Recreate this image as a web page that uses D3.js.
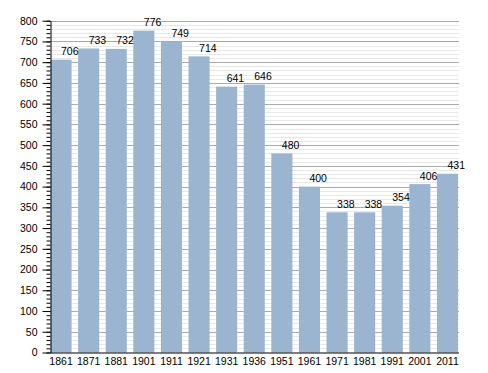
<!DOCTYPE html>
<html>
<head>
<meta charset="utf-8">
<script src="https://cdn.jsdelivr.net/npm/d3@7"></script>
<style>
  body { margin: 0; background: #fff; }
  text { font-family: "Liberation Sans", Arial, sans-serif; font-size: 10.5px; fill: #000; }
</style>
</head>
<body>
<div id="chart"></div>
<script>
// population by census year
var years = ["1861","1871","1881","1901","1911","1921","1931","1936","1951","1961","1971","1981","1991","2001","2011"];
var population = [706,733,732,776,749,714,641,646,480,400,338,338,354,406,431];
var yMajorTicks = [0,50,100,150,200,250,300,350,400,450,500,550,600,650,700,750,800];

var totwidth = 488,
    totheight = 373,
    plotLeft = 50.5, plotRight = 459, plotTop = 20.7, plotBottom = 352.5;

var svg = d3.select("#chart").append("svg")
    .attr("width", totwidth)
    .attr("height", totheight);

var xScale = d3.scaleBand()
    .domain(years)
    .range([plotLeft, 458])
    .paddingInner(0.236)
    .paddingOuter(0)
    .align(0);

var yScale = d3.scaleLinear()
    .domain([0, 800])
    .range([plotBottom, plotTop]);

var minorTicks = d3.range(0, 801, 10);

// minor grid every 10
svg.append("g").selectAll("line")
    .data(minorTicks.filter(function(d) { return d % 50 != 0; }))
    .enter().append("line")
      .attr("x1", plotLeft).attr("x2", plotRight)
      .attr("y1", function(d) { return Math.round(yScale(d)) + 0.5; })
      .attr("y2", function(d) { return Math.round(yScale(d)) + 0.5; })
      .attr("stroke", "#e8e8e8")
      .attr("stroke-width", 1);

// major grid every 50
svg.append("g").selectAll("line")
    .data(yMajorTicks.filter(function(d) { return d > 0; }))
    .enter().append("line")
      .attr("x1", plotLeft).attr("x2", plotRight)
      .attr("y1", function(d) { return Math.round(yScale(d)) + 0.5; })
      .attr("y2", function(d) { return Math.round(yScale(d)) + 0.5; })
      .attr("stroke", "#aaaaaa")
      .attr("stroke-width", 1);

// bars
svg.append("g").selectAll("rect")
    .data(years)
    .enter().append("rect")
      .attr("x", function(d) { return xScale(d); })
      .attr("y", function(d, i) { return yScale(population[i]); })
      .attr("width", xScale.bandwidth())
      .attr("height", function(d, i) { return plotBottom - yScale(population[i]); })
      .attr("fill", "#9bb4cf");

// value labels, starting at bar centre
svg.append("g").selectAll("text")
    .data(years)
    .enter().append("text")
      .attr("x", function(d) { return xScale(d) + xScale.bandwidth()/2; })
      .attr("y", function(d, i) { return yScale(population[i]) - 4.5; })
      .attr("text-anchor", "start")
      .text(function(d, i) { return population[i]; });

// y axis minor ticks
var yMinor = svg.append("g")
    .attr("transform", "translate(" + plotLeft + ",0)")
    .call(d3.axisLeft(yScale).tickValues(minorTicks).tickSize(4).tickFormat(""));
yMinor.select(".domain").remove();

// y axis major ticks + labels
var yAxis = svg.append("g")
    .attr("transform", "translate(" + plotLeft + ",0)")
    .call(d3.axisLeft(yScale).tickValues(yMajorTicks).tickSize(8).tickSizeOuter(0).tickPadding(5));
yAxis.selectAll("text").style("font-size", "10.5px").attr("fill", "#000");
yAxis.selectAll("line").attr("stroke", "#000");
yAxis.select(".domain").attr("stroke", "#000");

// x axis
var xAxis = svg.append("g")
    .attr("transform", "translate(0," + plotBottom + ")")
    .call(d3.axisBottom(xScale).tickSize(0).tickPadding(5));
xAxis.select(".domain").attr("d", "M" + plotLeft + ",0.5H" + plotRight).attr("stroke", "#000").attr("stroke-width", 1.2);
xAxis.selectAll("text").style("font-size", "10.5px").attr("fill", "#000");
</script>
</body>
</html>
